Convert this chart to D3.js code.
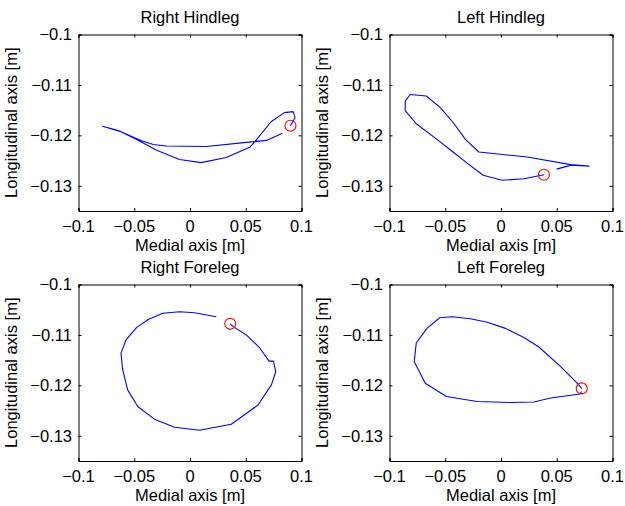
<!DOCTYPE html>
<html>
<head>
<meta charset="utf-8">
<script src="https://cdn.jsdelivr.net/npm/d3@7"></script>
<style>
  html, body { margin: 0; padding: 0; background: #fff; }
  svg { display: block; }
  text { font-family: "Liberation Sans", Arial, Helvetica, sans-serif; fill: #000; }
</style>
</head>
<body>
<svg id="chart" width="625" height="506"></svg>
<script>
// ---- Data ----
const titles = ["Right Hindleg", "Left Hindleg", "Right Foreleg", "Left Foreleg"];
const xLabel = "Medial axis [m]";
const yLabel = "Longitudinal axis [m]";
const xTicks = [-0.1, -0.05, 0, 0.05, 0.1];
const yTicks = [-0.1, -0.11, -0.12, -0.13];
const xDomain = [-0.1, 0.1];
const yDomain = [-0.135, -0.1];

// Right Hindleg trajectory (first point = red circle)
const rhX = [0.0901, 0.0942, 0.0925, 0.0846, 0.0727, 0.0580, 0.0540, 0.0325, 0.0100, -0.0094, -0.0304, -0.0460, -0.0620, -0.0784,
             -0.0650, -0.0440, -0.0330, -0.0214, 0.0145, 0.0505, 0.0685, 0.0829];
const rhY = [-0.1181, -0.1165, -0.1153, -0.1155, -0.1173, -0.1213, -0.1223, -0.1244, -0.1254, -0.1248, -0.1229, -0.1210, -0.1193, -0.1182,
             -0.1190, -0.1210, -0.1218, -0.1221, -0.1222, -0.1214, -0.1210, -0.1196];

// Left Hindleg trajectory
const lhX = [0.0385, 0.0205, 0.0010, -0.0160, -0.0304, -0.0424, -0.0574, -0.0760, -0.0859, -0.0859, -0.0814, -0.0670, -0.0544, -0.0424, -0.0319, -0.0199,
             0.0235, 0.0625, 0.0790, 0.0630, 0.0499];
const lhY = [-0.1278, -0.1286, -0.1289, -0.1279, -0.1255, -0.1234, -0.1208, -0.1177, -0.1151, -0.1132, -0.1119, -0.1122, -0.1145, -0.1176, -0.1208, -0.1233,
             -0.1243, -0.1258, -0.1261, -0.1259, -0.1267];

// Right Foreleg trajectory
const rfX = [0.0361, 0.0385, 0.0505, 0.0619, 0.0709, 0.0748, 0.0769, 0.0730, 0.0610, 0.0370, 0.0085, -0.0139, -0.0319, -0.0469, -0.0559, -0.0604, -0.0619,
             -0.0574, -0.0478, -0.0370, -0.0244, -0.0094, 0.0040, 0.0235];
const rfY = [-0.1078, -0.1083, -0.1100, -0.1124, -0.1152, -0.1152, -0.1173, -0.1199, -0.1239, -0.1277, -0.1289, -0.1283, -0.1267, -0.1242, -0.1209, -0.1169, -0.1136,
             -0.1110, -0.1085, -0.1069, -0.1057, -0.1054, -0.1056, -0.1064];

// Left Foreleg trajectory
const lfX = [0.0724, 0.0685, 0.0535, 0.0340, 0.0205, 0.0040, -0.0124, -0.0274, -0.0439, -0.0550, -0.0664, -0.0760, -0.0778, -0.0679, -0.0490, -0.0214,
             0.0085, 0.0295, 0.0445, 0.0709, 0.0722];
const lfY = [-0.1206, -0.1196, -0.1163, -0.1124, -0.1105, -0.1087, -0.1075, -0.1068, -0.1064, -0.1066, -0.1087, -0.1116, -0.1153, -0.1196, -0.1222, -0.1232,
             -0.1234, -0.1233, -0.1225, -0.1217, -0.1212];

const seriesX = [rhX, lhX, rfX, lfX];
const seriesY = [rhY, lhY, rfY, lfY];

// ---- Layout ----
const panelLeft = [78.5, 389.5, 78.5, 389.5];
const panelTop = [34.5, 34.5, 284.5, 284.5];
const W = 223, H = 176.5;
const FS = 16.5;

const svg = d3.select("#chart");
const fmt = v => (v < 0 ? "\u2212" : "") + String(Math.abs(v));

titles.forEach((title, i) => {
  const x = d3.scaleLinear().domain(xDomain).range([0, W]);
  const y = d3.scaleLinear().domain(yDomain).range([H, 0]);
  const g = svg.append("g").attr("transform", `translate(${panelLeft[i]},${panelTop[i]})`);

  // Inward ticks on all four sides (MATLAB box style)
  const tl = 3;
  const axB = g.append("g").attr("transform", `translate(0,${H})`)
    .call(d3.axisBottom(x).tickValues(xTicks).tickSize(-tl).tickPadding(0).tickFormat(""));
  const axT = g.append("g")
    .call(d3.axisTop(x).tickValues(xTicks).tickSize(-tl).tickFormat(""));
  const axL = g.append("g")
    .call(d3.axisLeft(y).tickValues(yTicks).tickSize(-tl).tickFormat(""));
  const axR = g.append("g").attr("transform", `translate(${W},0)`)
    .call(d3.axisRight(y).tickValues(yTicks).tickSize(-tl).tickFormat(""));
  [axB, axT, axL, axR].forEach(a => {
    a.select(".domain").attr("stroke", "#000").attr("stroke-width", 1);
    a.selectAll(".tick line").attr("stroke", "#000").attr("stroke-width", 1);
  });

  // Tick labels
  g.append("g").selectAll("text").data(xTicks).join("text")
    .attr("x", d => x(d)).attr("y", H + 21)
    .attr("text-anchor", "middle").attr("font-size", FS)
    .text(d => fmt(d));
  g.append("g").selectAll("text").data(yTicks).join("text")
    .attr("x", -6.5).attr("y", d => y(d)).attr("dy", "0.36em")
    .attr("text-anchor", "end").attr("font-size", FS)
    .text(d => fmt(d));

  // Title and axis labels
  g.append("text").attr("x", W / 2).attr("y", -11.5)
    .attr("text-anchor", "middle").attr("font-size", FS).text(title);
  g.append("text").attr("x", W / 2).attr("y", H + 40)
    .attr("text-anchor", "middle").attr("font-size", FS).text(xLabel);
  g.append("text")
    .attr("transform", `translate(-61.5,${H / 2}) rotate(-90)`)
    .attr("text-anchor", "middle").attr("font-size", FS).text(yLabel);

  // Trajectory
  const pts = seriesX[i].map((vx, k) => [vx, seriesY[i][k]]);
  g.append("path").datum(pts)
    .attr("fill", "none").attr("stroke", "#0000ff").attr("stroke-width", 1.1)
    .attr("stroke-linejoin", "round")
    .attr("d", d3.line().x(d => x(d[0])).y(d => y(d[1])));

  // Start marker
  g.append("circle")
    .attr("cx", x(pts[0][0])).attr("cy", y(pts[0][1])).attr("r", 5.5)
    .attr("fill", "none").attr("stroke", "#ff0000").attr("stroke-width", 1.1);
});
</script>
</body>
</html>
